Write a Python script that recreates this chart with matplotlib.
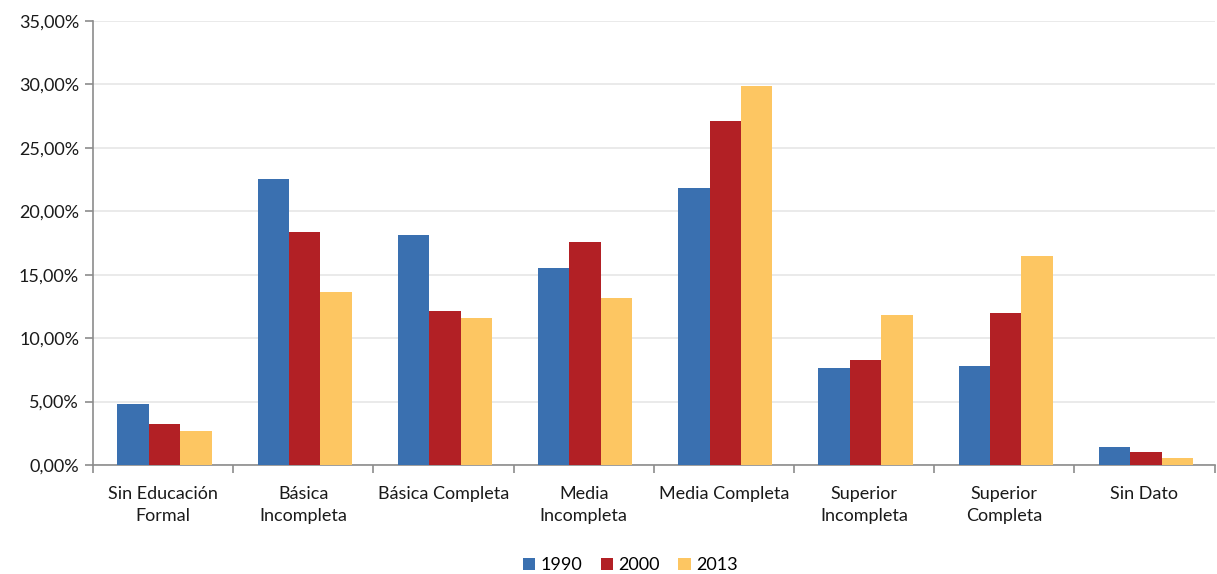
"""Distribución por nivel educacional, 1990 / 2000 / 2013 (barras agrupadas)."""

import numpy as np
import matplotlib.pyplot as plt
from matplotlib.ticker import FuncFormatter, FixedLocator

plt.rcParams['font.family'] = ['Lato', 'DejaVu Sans']

categorias = ['Sin Educación\nFormal', 'Básica\nIncompleta', 'Básica Completa',
              'Media\nIncompleta', 'Media Completa', 'Superior\nIncompleta',
              'Superior\nCompleta', 'Sin Dato']
anios = ['1990', '2000', '2013']
v1990 = [4.82, 22.54, 18.13, 15.53, 21.85, 7.65, 7.80, 1.44]
v2000 = [3.19, 18.37, 12.14, 17.58, 27.12, 8.28, 11.98, 1.00]
v2013 = [2.70, 13.64, 11.59, 13.16, 29.90, 11.82, 16.47, 0.53]
colores = ['#3A70B0', '#B22025', '#FDC662']

fig = plt.figure(figsize=(12.17, 5.74), dpi=100)
ax = fig.add_axes([0.0764, 0.19, 0.9216, 0.7734])

x = np.arange(len(categorias))
ancho = 0.224
for i, (serie, color) in enumerate(zip([v1990, v2000, v2013], colores)):
    ax.bar(x + (i - 1) * ancho + 0.01, serie, ancho, color=color, label=anios[i], zorder=3)

ax.set_xlim(-0.5, len(categorias) - 0.5)
ax.set_ylim(0, 35)
ax.set_yticks(np.arange(0, 36, 5))
ax.yaxis.set_major_formatter(FuncFormatter(lambda v, p: f'{v:.2f}%'.replace('.', ',')))
ax.grid(axis='y', color='#e6e6e6', linewidth=1.2, zorder=0)

# etiquetas centradas, marcas en los límites de cada categoría
ax.set_xticks(x)
ax.set_xticklabels(categorias, fontsize=13, color='#1a1a1a', linespacing=1.45)
ax.tick_params(axis='x', which='major', length=0, pad=15)
ax.xaxis.set_minor_locator(FixedLocator(np.arange(-0.5, len(categorias), 1)))
ax.tick_params(axis='x', which='minor', length=6, color='#8c8c8c', width=1.2)
ax.tick_params(axis='y', length=6, color='#8c8c8c', width=1.2, labelsize=13,
               labelcolor='#1a1a1a', pad=4)

for lado in ['top', 'right']:
    ax.spines[lado].set_visible(False)
for lado in ['left', 'bottom']:
    ax.spines[lado].set_color('#8c8c8c')
    ax.spines[lado].set_linewidth(1.2)

ax.legend(loc='center', bbox_to_anchor=(0.479, -0.226), ncol=3, frameon=False,
          fontsize=13, handlelength=0.7, handleheight=0.7, handletextpad=0.3,
          columnspacing=1.0, borderpad=0.1)

fig.savefig('out.png', dpi=100)
